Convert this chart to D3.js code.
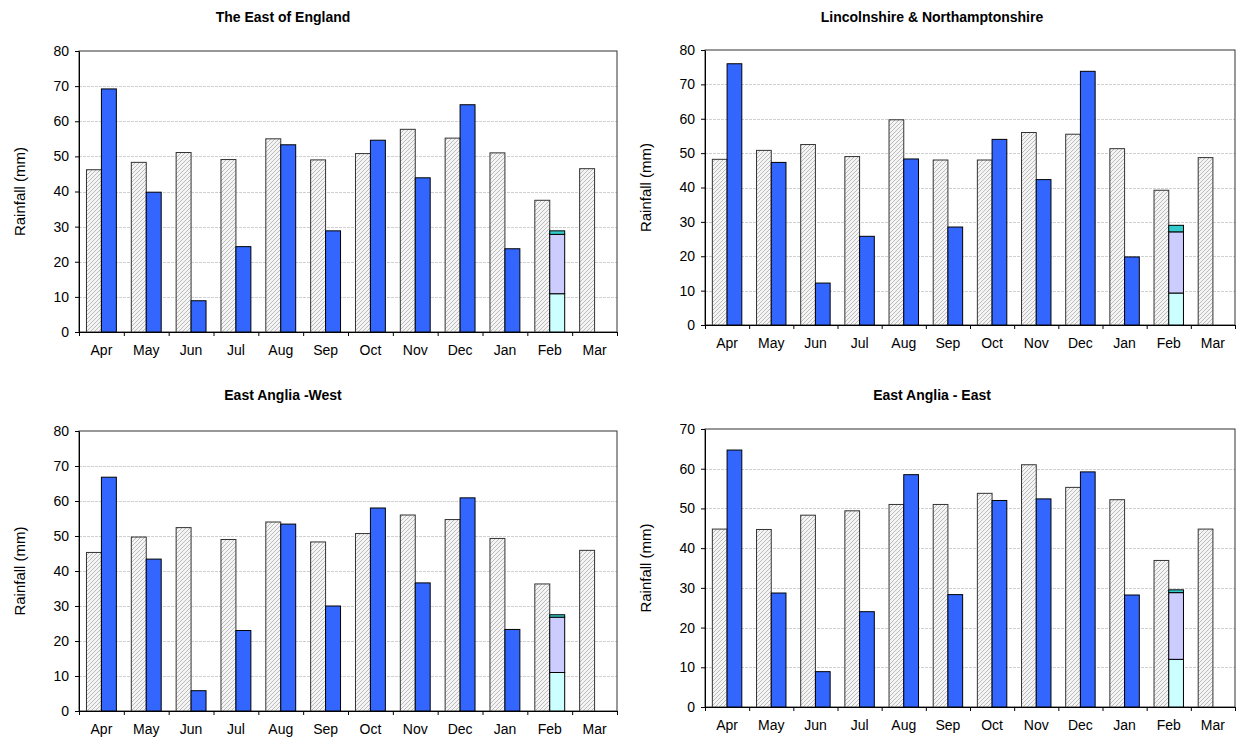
<!DOCTYPE html>
<html lang="en">
<head>
  <meta charset="UTF-8">
  <title>Monthly rainfall - East of England</title>
  <script src="https://d3js.org/d3.v7.min.js"></script>
  <style>
    body { margin: 0; background: #fff; }
    text { font-family: "Liberation Sans", Arial, sans-serif; }
  </style>
</head>
<body>
<script>
  // months of the water year
  const months = ["Apr", "May", "Jun", "Jul", "Aug", "Sep", "Oct", "Nov", "Dec", "Jan", "Feb", "Mar"];

  // long term average (hatched bars), Apr..Mar
  const eastAvg    = [46.2, 48.3, 51.1, 49.1, 55.0, 49.0, 50.8, 57.7, 55.2, 51.0, 37.5, 46.5];
  const lincsAvg   = [48.2, 50.8, 52.5, 49.0, 59.7, 48.0, 48.0, 56.0, 55.5, 51.3, 39.2, 48.7];
  const eaWestAvg  = [45.3, 49.7, 52.4, 49.0, 54.0, 48.3, 50.7, 56.0, 54.7, 49.3, 36.3, 45.9];
  const eaEastAvg  = [44.8, 44.7, 48.3, 49.4, 51.0, 51.0, 53.8, 61.0, 55.3, 52.2, 36.9, 44.8];

  // actual rainfall (blue bars), Apr..Jan
  const eastActual   = [69.2, 39.8, 8.9, 24.3, 53.3, 28.8, 54.6, 43.9, 64.7, 23.7];
  const lincsActual  = [76.0, 47.3, 12.2, 25.8, 48.3, 28.5, 54.0, 42.3, 73.8, 19.8];
  const eaWestActual = [66.8, 43.4, 5.8, 23.0, 53.4, 30.0, 58.0, 36.6, 60.9, 23.3];
  const eaEastActual = [64.7, 28.7, 8.9, 24.0, 58.5, 28.3, 52.0, 52.4, 59.2, 28.2];

  // February so far, stacked in three parts
  const febParts = ["part1", "part2", "part3"];
  const febColors = ["#ccffff", "#ccccff", "#33cccc"];
  const eastFeb   = [10.9, 16.9, 1.0];
  const lincsFeb  = [9.3, 17.8, 1.9];
  const eaWestFeb = [11.0, 15.8, 0.7];
  const eaEastFeb = [12.0, 16.8, 0.7];

  const titles = ["The East of England", "Lincolnshire & Northamptonshire", "East Anglia -West", "East Anglia - East"];
  const yMaxes = [80, 80, 80, 70];

  // layout of the four panels
  const panels = [
    {left: 79,  right: 617,  top: 51,  bottom: 332, titleX: 283, titleY: 22,  labelX: 19},
    {left: 705, right: 1235, top: 50,  bottom: 325, titleX: 932, titleY: 22,  labelX: 645},
    {left: 79,  right: 617,  top: 431, bottom: 711, titleX: 283, titleY: 400, labelX: 19},
    {left: 705, right: 1235, top: 429, bottom: 707, titleX: 932, titleY: 400, labelX: 645}
  ];
  const avgs = [eastAvg, lincsAvg, eaWestAvg, eaEastAvg];
  const actuals = [eastActual, lincsActual, eaWestActual, eaEastActual];
  const febs = [eastFeb, lincsFeb, eaWestFeb, eaEastFeb];

  const svg = d3.select("body")
    .append("svg")
    .attr("width", 1237)
    .attr("height", 740);

  // hatch fill for the average bars
  const pat = svg.append("defs")
    .append("pattern")
    .attr("id", "hatch")
    .attr("patternUnits", "userSpaceOnUse")
    .attr("width", 4)
    .attr("height", 4);
  pat.append("rect").attr("width", 4).attr("height", 4).attr("fill", "#f4f4f4");
  pat.append("path")
    .attr("d", "M-1,1 l2,-2 M0,4 l4,-4 M3,5 l2,-2")
    .attr("stroke", "#bcbcbc")
    .attr("stroke-width", 1);

  panels.forEach((p, i) => drawPanel(p, i));

  function drawPanel(p, i) {
    const w = p.right - p.left;
    const h = p.bottom - p.top;
    const yMax = yMaxes[i];

    const g = svg.append("g")
      .attr("transform", "translate(" + p.left + "," + p.top + ")");

    const y = d3.scaleLinear().domain([0, yMax]).range([h, 0]);
    const x0 = d3.scaleBand().domain(months).range([0, w]);
    const x1 = d3.scaleBand().domain(["avg", "act"]).range([0, x0.bandwidth()]).paddingOuter(0.5);

    // gridlines
    g.selectAll(".grid")
      .data(d3.range(10, yMax, 10))
      .join("line")
      .attr("x1", 0).attr("x2", w)
      .attr("y1", d => Math.round(y(d)) + 0.5)
      .attr("y2", d => Math.round(y(d)) + 0.5)
      .attr("stroke", "#d0d0d0")
      .attr("stroke-dasharray", "3,1");

    // frame
    g.append("rect")
      .attr("x", 0).attr("y", 0)
      .attr("width", w).attr("height", h)
      .attr("fill", "none")
      .attr("stroke", "#333");

    // average bars
    g.selectAll(".avg")
      .data(avgs[i])
      .join("rect")
      .attr("x", (d, j) => x0(months[j]) + x1("avg"))
      .attr("y", d => y(d))
      .attr("width", x1.bandwidth())
      .attr("height", d => h - y(d))
      .attr("fill", "url(#hatch)")
      .attr("stroke", "#333");

    // actual bars
    g.selectAll(".act")
      .data(actuals[i])
      .join("rect")
      .attr("x", (d, j) => x0(months[j]) + x1("act"))
      .attr("y", d => y(d))
      .attr("width", x1.bandwidth())
      .attr("height", d => h - y(d))
      .attr("fill", "#3366ff")
      .attr("stroke", "#000");

    // February stacked bar
    const row = {};
    febParts.forEach((k, j) => row[k] = febs[i][j]);
    const stacked = d3.stack().keys(febParts)([row]);
    g.selectAll(".feb")
      .data(stacked)
      .join("rect")
      .attr("x", x0("Feb") + x1("act"))
      .attr("y", d => y(d[0][1]))
      .attr("width", x1.bandwidth())
      .attr("height", d => y(d[0][0]) - y(d[0][1]))
      .attr("fill", (d, j) => febColors[j])
      .attr("stroke", "#000");

    // y axis
    g.append("g")
      .call(d3.axisLeft(y).tickValues(d3.range(0, yMax + 1, 10)).tickSize(4).tickSizeOuter(0).tickPadding(6))
      .call(a => a.selectAll("text").attr("font-size", 14).attr("fill", "#000")
        .attr("font-family", "Liberation Sans, Arial, sans-serif"))
      .call(a => a.selectAll("line,path").attr("stroke", "#000"));

    // x axis ticks between months
    g.append("g")
      .attr("transform", "translate(0," + h + ")")
      .call(d3.axisBottom(d3.scaleLinear().domain([0, 12]).range([0, w])).ticks(12).tickSize(4).tickSizeOuter(0).tickFormat(""))
      .call(a => a.selectAll("line,path").attr("stroke", "#000"));

    // month labels
    g.append("g")
      .attr("transform", "translate(0," + h + ")")
      .call(d3.axisBottom(x0).tickSize(0).tickPadding(13))
      .call(a => a.select(".domain").remove())
      .call(a => a.selectAll("text").attr("font-size", 14).attr("fill", "#000")
        .attr("font-family", "Liberation Sans, Arial, sans-serif"));

    // title
    svg.append("text")
      .attr("x", p.titleX)
      .attr("y", p.titleY)
      .attr("text-anchor", "middle")
      .attr("font-size", 14)
      .attr("font-weight", "bold")
      .text(titles[i]);

    // y label
    svg.append("text")
      .attr("transform", "translate(" + p.labelX + "," + (p.top + h / 2) + ") rotate(-90)")
      .attr("text-anchor", "middle")
      .attr("dominant-baseline", "central")
      .attr("font-size", 15)
      .text("Rainfall (mm)");
  }
</script>
</body>
</html>
